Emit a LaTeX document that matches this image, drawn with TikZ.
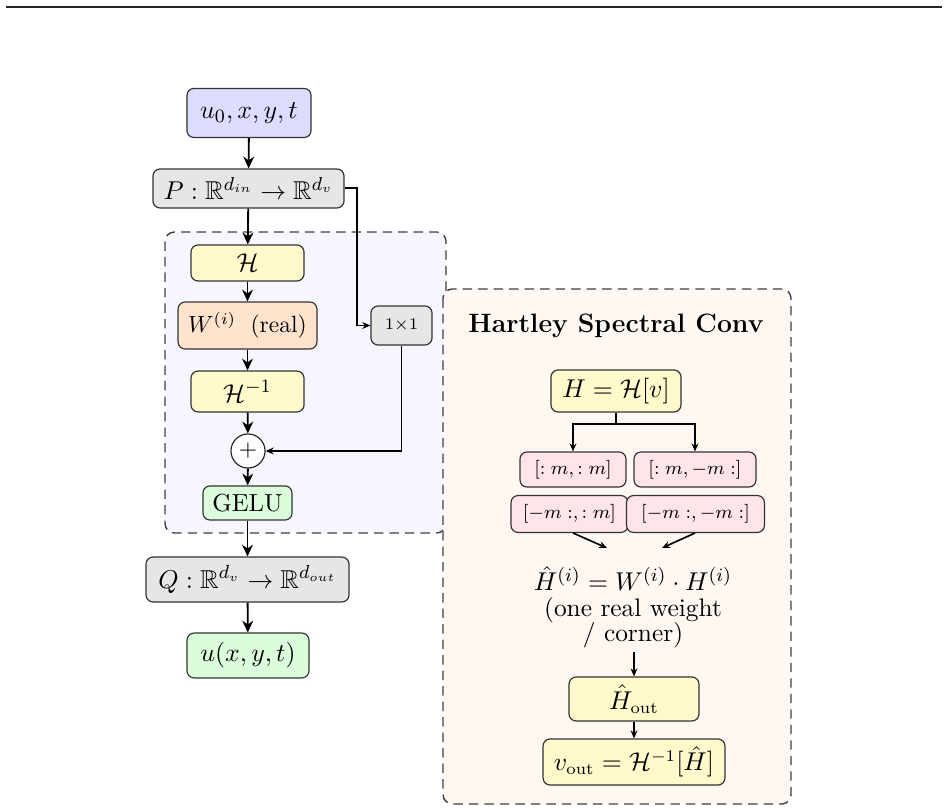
\documentclass[tikz,border=0pt]{standalone}
\usepackage{amsmath,amssymb}
\usetikzlibrary{arrows.meta,calc}
\definecolor{inblue}{HTML}{DCDCFF}
\definecolor{boxgray}{HTML}{E6E6E6}
\definecolor{hyellow}{HTML}{FFF9CC}
\definecolor{worange}{HTML}{FFE3CC}
\definecolor{ggreen}{HTML}{DBFDDB}
\definecolor{cpink}{HTML}{FFE5E8}
\definecolor{leftbg}{HTML}{F6F6FF}
\definecolor{rightbg}{HTML}{FFF7F1}
\tikzset{
  blk/.style={draw=black!80, line width=0.5pt, rounded corners=3pt, align=center, inner sep=1pt},
  mainarrow/.style={line width=0.8pt, -{Stealth[length=5pt,width=4.6pt,inset=1.6pt]}},
  thinarrow/.style={line width=0.7pt, -{Stealth[length=3.4pt,width=2.9pt]}},
  thinline/.style={line width=0.7pt},
  panel/.style={draw=black!75, dash pattern=on 4pt off 2.6pt, line width=0.6pt, rounded corners=4pt},
  f11/.style={font=\fontsize{11}{13.5}\selectfont},
  f105/.style={font=\fontsize{10.5}{12.6}\selectfont}
}
\begin{document}
\begin{tikzpicture}[x=0.4255pt,y=-0.4255pt]
\useasboundingbox (0,0) rectangle (948,808);
\draw[line width=0.65pt, black!85] (6,6.8) coordinate (r1) -- (942,6.8) coordinate (r2);

% left container
\draw[panel, fill=leftbg] (165,232) rectangle (446,533);

% left chain
\node[blk, fill=inblue, minimum width=52.8pt, minimum height=20.9pt, f11] (in) at (249,113) {$u_0, x, y, t$};
\node[blk, fill=boxgray, minimum width=81.3pt, minimum height=16.6pt, f11] (P) at (248.5,188.5) {$P:\mathbb{R}^{d_{in}}\rightarrow\mathbb{R}^{d_v}$};
\node[blk, fill=hyellow, minimum width=48.1pt, minimum height=15.3pt, f11] (H) at (247.5,263) {$\mathcal{H}$};
\node[blk, fill=worange, minimum width=59.1pt, minimum height=20pt] (W) at (247.5,325.5) {$W^{(i)}$\; (real)};
\node[blk, fill=hyellow, minimum width=48.1pt, minimum height=17.4pt, f11] (Hi) at (247.5,391.5) {$\mathcal{H}^{-1}$};
\node[draw=black!85, line width=0.5pt, circle, fill=white, minimum size=14.5pt, inner sep=0pt] (plus) at (248,451) {$+$};
\node[blk, fill=ggreen, minimum width=37.9pt, minimum height=14.5pt, f105] (gelu) at (247.5,503) {GELU};
\node[blk, fill=boxgray, minimum width=26pt, minimum height=16.6pt, font=\scriptsize] (one) at (401.5,325.5) {$1{\times}1$};
\node[blk, fill=boxgray, minimum width=86.4pt, minimum height=19.1pt, f11] (Q) at (247.5,579.5) {$Q:\mathbb{R}^{d_v}\rightarrow\mathbb{R}^{d_{out}}$};
\node[blk, fill=ggreen, minimum width=51.9pt, minimum height=19.1pt, f11] (out) at (248,655.5) {$u(x,y,t)$};

\draw[mainarrow] (in) -- (P);
\draw[mainarrow] (P) -- (H);
\draw[mainarrow] (H) -- (W);
\draw[mainarrow] (W) -- (Hi);
\draw[mainarrow] (Hi) -- (plus);
\draw[mainarrow] (plus) -- (gelu);
\draw[mainarrow] (gelu) -- (Q);
\draw[mainarrow] (Q) -- (out);
\coordinate (sk) at (357,188);
\draw[thinarrow] (P.east |- sk) -- (sk) -- (sk |- one) -- (one.west);
\draw[thinarrow] (one.south) -- (one.south |- plus) -- (plus.east);

% right panel
\draw[panel, fill=rightbg] (443,289) rectangle (791,804);
\node[font=\fontsize{11.3}{13.6}\selectfont\bfseries] (title) at (616,326) {Hartley Spectral Conv};
\node[blk, fill=hyellow, minimum width=55.3pt, minimum height=17.9pt, f105] (Hv) at (616,391) {$H=\mathcal{H}[v]$};
\node[blk, fill=cpink, minimum width=45.1pt, minimum height=14.9pt, font=\footnotesize] (c1) at (573,469.5) {$[:m, :m]$};
\node[blk, fill=cpink, minimum width=51.9pt, minimum height=14.9pt, font=\footnotesize] (c2) at (695,469.5) {$[:m, -m:]$};
\node[blk, fill=cpink, minimum width=49.8pt, minimum height=15.7pt, font=\footnotesize] (c3) at (569.5,514) {$[-m:, :m]$};
\node[blk, fill=cpink, minimum width=58.7pt, minimum height=15.7pt, font=\footnotesize] (c4) at (695.5,514) {$[-m:, -m:]$};
\coordinate (br) at (616,424);
\draw[thinline] (Hv.south) -- (br);
\draw[thinarrow] (br) -| (c1.north);
\draw[thinarrow] (br) -| (c2.north);
\node[align=center, inner sep=0pt, font=\fontsize{10.8}{10.8}\selectfont] (eq) at (633,607) {$\hat H^{(i)} = W^{(i)}\cdot H^{(i)}$\\(one real weight\\/ corner)};
\coordinate (a1) at (607,548);
\coordinate (a2) at (662,548);
\draw[thinarrow] (c1 |- c3.south) -- (a1);
\draw[thinarrow] (c2 |- c4.south) -- (a2);
\node[blk, fill=hyellow, minimum width=55.3pt, minimum height=18.7pt, f105] (Ho) at (634,699) {$\hat H_{\mathrm{out}}$};
\node[blk, fill=hyellow, minimum width=77.4pt, minimum height=19.6pt, f105] (vo) at (634,762) {$v_{\mathrm{out}}=\mathcal{H}^{-1}[\hat H]$};
\coordinate (a3) at (634,652);
\draw[thinarrow] (a3) -- (Ho.north);
\draw[thinarrow] (Ho) -- (vo);
\end{tikzpicture}
\end{document}
